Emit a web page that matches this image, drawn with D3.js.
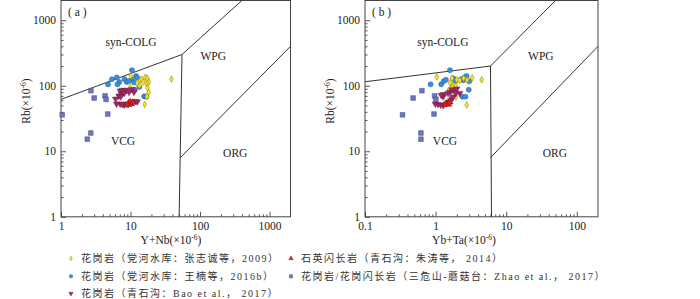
<!DOCTYPE html>
<html>
<head>
<meta charset="utf-8">
<script src="https://cdn.jsdelivr.net/npm/d3@7"></script>
<style>
  body { margin: 0; background: #fff; }
  svg { display: block; font-family: "Liberation Serif", "Noto Sans CJK SC", serif; }
</style>
</head>
<body>
<svg width="700" height="299"></svg>
<script>
// ---- data: [x, Rb] pairs ----
// squares share Rb in both panels
const rbSquare = [84, 65, 70, 62, 36, 37, 19, 15.3];
const ynbSquare = [2.7, 3.0, 4.3, 4.45, 1.04, 4.7, 2.68, 2.39];
const ybtaSquare = [0.64, 0.48, 0.97, 1.01, 0.34, 0.95, 0.62, 0.62];

const yellowA = [[10.1,141],[9.9,95],[13.4,117],[14.4,126],[15.3,114],[16.4,135],[17.5,130],[18.3,114],[17.2,105],[17.5,93],[18.3,79],[17.2,68],[16.0,52],[38.8,126],[13.4,100],[12.5,110]];
const blueA = [[10.5,173],[4.75,105],[5.4,126],[6.35,134],[6.9,114],[8.2,126],[8.8,114],[6.5,105],[10.5,123],[11.3,112],[12.0,141],[11.5,87],[13.4,96],[15.7,69],[16.8,68],[12.5,133],[9.5,118]];
const purpleA = [[7.1,83],[7.55,86],[8.3,85],[8.8,86],[7.4,74],[8.1,77],[6.8,70],[7.2,68],[6.1,63],[9.5,80],[10.5,88],[11.2,80],
                 [6.3,53],[7.1,53],[8.1,51],[8.6,53],[9.2,52],[10.3,54],[11,57],[11.8,58],[12.5,57],[7.6,52]];
const redA = [[9.4,55],[9.9,57],[10.3,53],[9.0,51],[10.8,56]];

const yellowB = [[1.04,137],[1.71,130],[1.78,102],[1.71,95],[1.94,100],[2.0,123],[2.2,121],[2.5,130],[2.8,123],[3.3,132],[4.5,123],[1.86,80],[1.94,67],[2.76,51],[1.53,85],[1.6,110]];
const blueB = [[1.6,173],[0.85,105],[1.2,105],[1.3,117],[1.4,123],[1.78,130],[2.46,121],[2.58,135],[2.75,141],[3.0,117],[2.95,87],[2.4,68],[2.65,68],[2.3,126],[1.71,92],[1.9,118]];
const purpleB = [[1.71,86],[1.86,88],[2.0,90],[1.6,80],[1.5,77],[1.3,74],[1.28,68],[1.2,72],[1.94,77],[2.2,77],
                 [0.99,53],[1.08,52],[1.18,51],[1.28,50],[1.4,53],[1.53,57],[1.64,60],[1.71,64],[1.78,68]];
const redB = [[1.43,54],[1.53,52],[1.6,56],[1.37,52]];

// Pearce (1984) boundaries
const linesA = [
  [[1,62],[55,300],[400,2000]],
  [[55,300],[50,1]],
  [[52,8],[2000,400]]
];
const linesB = [
  [[0.1,115],[6,200],[50,2000]],
  [[6,200],[6.2,1]],
  [[6,8],[200,400]]
];
// field name, x, Rb
const fieldsA = [["syn-COLG",10.2,446],["WPG",155,273],["VCG",7.8,13.8],["ORG",321,9.1]];
const fieldsB = [["syn-COLG",1.27,446],["WPG",31,273],["VCG",1.36,13.8],["ORG",49,9.1]];

const ticksY = [1, 10, 100, 1000];
const ticksXA = [1, 10, 100, 1000];
const ticksXB = [0.1, 1, 10, 100];

const legendItems = [
  {sym: "diamond", text: "花岗岩（党河水库：张志诚等，2009）"},
  {sym: "circle", text: "花岗岩（党河水库：王楠等，2016b）"},
  {sym: "down", text: "花岗岩（青石沟：Bao et al.， 2017）"},
  {sym: "up", text: "石英闪长岩（青石沟：朱涛等， 2014）"},
  {sym: "square", text: "花岗岩/花岗闪长岩（三危山-蘑菇台：Zhao et al.， 2017）"}
];

const styles = {
  diamond: {fill: "#f6e61e", stroke: "#8a7a14", type: d3.symbolDiamond, size: 13, rot: 0},
  circle:  {fill: "#3c8ed5", stroke: "#22609c", type: d3.symbolCircle, size: 20, rot: 0},
  down:    {fill: "#a3286a", stroke: "#6a1a45", type: d3.symbolTriangle, size: 17, rot: 180},
  up:      {fill: "#dc2020", stroke: "#8a1010", type: d3.symbolTriangle, size: 17, rot: 0},
  square:  {fill: "#6f78b8", stroke: "#3e4680", type: d3.symbolSquare, size: 22, rot: 0}
};

const svg = d3.select("svg");
const plotTop = 0.5, plotBottom = 216.8;

function drawPanel(cfg) {
  const x = d3.scaleLog().domain(cfg.xDomain).range([cfg.x0, cfg.x1]);
  const y = d3.scaleLog().domain([1, 2000]).range([plotBottom, plotTop]);
  const g = svg.append("g");

  // minor ticks
  const minorX = [];
  for (let e = Math.round(Math.log10(cfg.xDomain[0])); e < 4; e++)
    for (let k = 2; k <= 9; k++) {
      const v = k * Math.pow(10, e);
      if (v < cfg.xDomain[1]) minorX.push(v);
    }
  const minorY = [];
  for (let e = 0; e < 4; e++)
    for (let k = 2; k <= 9; k++) {
      const v = k * Math.pow(10, e);
      if (v < 2000) minorY.push(v);
    }

  g.append("g").attr("transform", `translate(0,${plotBottom})`)
    .call(d3.axisBottom(x).tickValues(minorX).tickSize(-2.5).tickFormat(""));
  g.append("g").attr("transform", `translate(${cfg.x0},0)`)
    .call(d3.axisLeft(y).tickValues(minorY).tickSize(-2.5).tickFormat(""));

  const ax = g.append("g").attr("transform", `translate(0,${plotBottom})`)
    .call(d3.axisBottom(x).tickValues(cfg.ticksX).tickSize(-5).tickPadding(5.5).tickFormat(d => String(d)));
  const ay = g.append("g").attr("transform", `translate(${cfg.x0},0)`)
    .call(d3.axisLeft(y).tickValues(ticksY).tickSize(-5).tickPadding(5).tickFormat(d => String(d)));
  g.selectAll(".domain").remove();
  g.selectAll(".tick line").attr("stroke", "#555");
  [ax, ay].forEach(a => a.selectAll("text").attr("font-family", "Liberation Serif")
    .attr("font-size", 11.5).attr("fill", "#222"));

  // frame
  g.append("rect").attr("x", cfg.x0).attr("y", plotTop)
    .attr("width", cfg.x1 - cfg.x0).attr("height", plotBottom - plotTop)
    .attr("fill", "none").attr("stroke", "#444").attr("stroke-width", 1);

  // boundaries
  const line = d3.line().x(d => x(d[0])).y(d => y(d[1]));
  g.append("g").selectAll("path").data(cfg.lines).join("path")
    .attr("d", line).attr("fill", "none").attr("stroke", "#333").attr("stroke-width", 1);

  g.append("g").selectAll("text").data(cfg.fields).join("text")
    .attr("x", d => x(d[1])).attr("y", d => y(d[2]))
    .attr("text-anchor", "middle").attr("dominant-baseline", "middle")
    .attr("font-size", 11.5).attr("fill", "#222").text(d => d[0]);

  g.append("text").attr("x", cfg.x0 + 7).attr("y", 16).attr("font-size", 11.5)
    .attr("fill", "#222").attr("xml:space", "preserve").text(cfg.label);

  // axis titles
  const xt = g.append("text").attr("x", cfg.xTitleX).attr("y", 244)
    .attr("text-anchor", "middle").attr("font-size", 11.5).attr("fill", "#222");
  xt.append("tspan").text(cfg.xTitle + "(×10");
  xt.append("tspan").attr("dy", -4).attr("font-size", 7.5).text("-6");
  xt.append("tspan").attr("dy", 4).text(")");

  const yt = g.append("text")
    .attr("transform", `translate(${cfg.x0 - 31},101) rotate(-90)`)
    .attr("text-anchor", "middle").attr("font-size", 11.5).attr("fill", "#222");
  yt.append("tspan").text("Rb(×10");
  yt.append("tspan").attr("dy", -4).attr("font-size", 7.5).text("-6");
  yt.append("tspan").attr("dy", 4).text(")");

  // points
  const drawPts = (pts, key) => {
    const s = styles[key];
    const sym = d3.symbol().type(s.type).size(s.size);
    g.append("g").selectAll("path").data(pts).join("path")
      .attr("d", sym)
      .attr("transform", d => `translate(${x(d[0])},${y(d[1])}) rotate(${s.rot})`)
      .attr("fill", s.fill).attr("stroke", s.stroke).attr("stroke-width", 0.5);
  };
  drawPts(cfg.square, "square");
  drawPts(cfg.blue, "circle");
  drawPts(cfg.yellow, "diamond");
  drawPts(cfg.purple, "down");
  drawPts(cfg.red, "up");
}

drawPanel({
  xDomain: [1, 2000], x0: 61, x1: 290.5, ticksX: ticksXA, lines: linesA, fields: fieldsA,
  label: "( a )", xTitle: "Y+Nb", xTitleX: 171,
  square: ynbSquare.map((v, i) => [v, rbSquare[i]]),
  yellow: yellowA, blue: blueA, purple: purpleA, red: redA
});
drawPanel({
  xDomain: [0.1, 200], x0: 365, x1: 598, ticksX: ticksXB, lines: linesB, fields: fieldsB,
  label: "( b )", xTitle: "Yb+Ta", xTitleX: 464,
  square: ybtaSquare.map((v, i) => [v, rbSquare[i]]),
  yellow: yellowB, blue: blueB, purple: purpleB, red: redB
});

// legend
const legPos = [[71, 258.5], [71, 276.3], [71, 293.5], [291, 258.5], [291, 276.3]];
const leg = svg.append("g");
legendItems.forEach((it, i) => {
  const [lx, ly] = legPos[i];
  const s = styles[it.sym];
  leg.append("path")
    .attr("d", d3.symbol().type(s.type).size(s.size * 0.5)())
    .attr("transform", `translate(${lx},${ly}) rotate(${s.rot})`)
    .attr("fill", s.fill).attr("stroke", s.stroke).attr("stroke-width", 0.4);
  leg.append("text").attr("x", lx + 10).attr("y", ly + 3.6)
    .attr("font-size", 10).attr("letter-spacing", 1.5).attr("fill", "#333")
    .attr("xml:space", "preserve").text(it.text);
});
</script>
</body>
</html>
